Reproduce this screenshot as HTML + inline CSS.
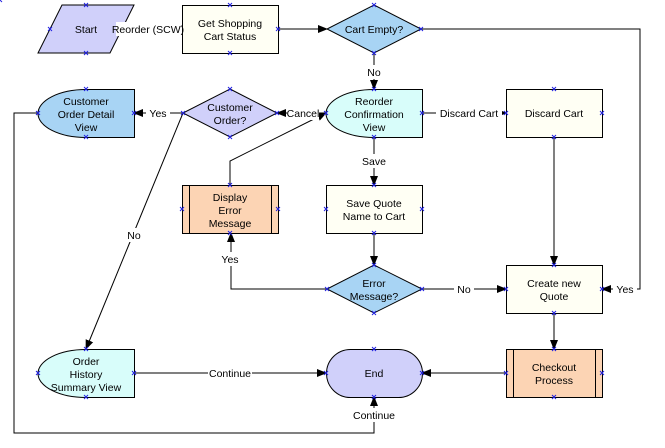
<!DOCTYPE html>
<html><head><meta charset="utf-8"><style>
html,body{margin:0;padding:0;background:#fff;}
svg{display:block;}
text{font-family:"Liberation Sans",sans-serif;font-size:10.5px;fill:#000;}
.t{text-anchor:middle;}
.x{stroke:#2020e0;stroke-width:1;}
</style></head><body>
<svg width="665" height="448" viewBox="0 0 665 448" xmlns="http://www.w3.org/2000/svg">
<defs>
<marker id="a" markerWidth="10" markerHeight="10" refX="9" refY="5" orient="auto" markerUnits="userSpaceOnUse">
<path d="M0,1 L10,5 L0,9 Z" fill="#000"/></marker>
</defs>
<g stroke="#000" stroke-width="1" fill="none">
<line x1="278" y1="29" x2="327" y2="29" marker-end="url(#a)"/>
<polyline points="421,29 640,29 640,289 602,289" marker-end="url(#a)"/>
<line x1="374" y1="53" x2="374" y2="89" marker-end="url(#a)"/>
<line x1="422" y1="113" x2="506" y2="113" marker-end="url(#a)"/>
<line x1="374" y1="137" x2="374" y2="185" marker-end="url(#a)"/>
<line x1="374" y1="233" x2="374" y2="265" marker-end="url(#a)"/>
<line x1="554" y1="137" x2="554" y2="265" marker-end="url(#a)"/>
<line x1="554" y1="313" x2="554" y2="349" marker-end="url(#a)"/>
<line x1="506" y1="373" x2="422" y2="373" marker-end="url(#a)"/>
<line x1="134" y1="373" x2="326" y2="373" marker-end="url(#a)"/>
<line x1="422" y1="289" x2="506" y2="289" marker-end="url(#a)"/>
<polyline points="327,289 231,289 231,233" marker-end="url(#a)"/>
<line x1="326" y1="113" x2="277" y2="113" marker-end="url(#a)"/>
<polyline points="230,185 230,161 326,113" marker-end="url(#a)"/>
<line x1="183" y1="113" x2="134" y2="113" marker-end="url(#a)"/>
<line x1="183" y1="113" x2="86" y2="349" marker-end="url(#a)"/>
<polyline points="38,113 14,113 14,433 374,433 374,397" marker-end="url(#a)"/>
</g>
<g stroke="#000" stroke-width="1">
<polygon points="62,5 134,5 110,53 38,53" fill="#d0d0fa"/>
<rect x="182.5" y="5.5" width="96" height="48" fill="#fffff4"/>
<polygon points="374,5 421,29 374,53 327,29" fill="#a8d4f4"/>
<path d="M134.5,89.5 H86 A48,24 0 0 0 86,137.5 H134.5 Z" fill="#a8d4f4"/>
<polygon points="230,89 277,113 230,137 183,113" fill="#d0d0fa"/>
<path d="M422.5,89.5 H374 A48,24 0 0 0 374,137.5 H422.5 Z" fill="#d8fdfa"/>
<rect x="506.5" y="89.5" width="96" height="48" fill="#fffff4"/>
<rect x="182.5" y="185.5" width="96" height="48" fill="#fcd4b4"/>
<line x1="189.5" y1="185.5" x2="189.5" y2="233.5"/><line x1="271.5" y1="185.5" x2="271.5" y2="233.5"/>
<rect x="326.5" y="185.5" width="96" height="48" fill="#fffff4"/>
<polygon points="374,265 422,289 374,313 327,289" fill="#a8d4f4"/>
<rect x="506.5" y="265.5" width="96" height="48" fill="#fffff4"/>
<path d="M134.5,349.5 H86 A48,24 0 0 0 86,397.5 H134.5 Z" fill="#d8fdfa"/>
<rect x="326.5" y="349.5" width="96" height="48" rx="24" ry="24" fill="#d0d0fa"/>
<rect x="506.5" y="349.5" width="96" height="48" fill="#fcd4b4"/>
<line x1="513.5" y1="349.5" x2="513.5" y2="397.5"/><line x1="595.5" y1="349.5" x2="595.5" y2="397.5"/>
</g>
<rect x="116" y="22" width="62" height="14" fill="#fff"/>
<g fill="#fff">
<rect x="366" y="65" width="16" height="14"/><rect x="436" y="106" width="66" height="14"/>
<rect x="362" y="154" width="24" height="14"/><rect x="218" y="252" width="24" height="14"/>
<rect x="454" y="282" width="20" height="14"/><rect x="613" y="282" width="24" height="14"/>
<rect x="146" y="106" width="24" height="14"/><rect x="287" y="106" width="32" height="14"/>
<rect x="124" y="228" width="20" height="14"/><rect x="208" y="366" width="44" height="14"/>
<rect x="351" y="408" width="46" height="14"/>
</g>
<text x="148" y="33" class="t">Reorder (SCW)</text>
<text x="374" y="76" class="t">No</text>
<text x="469" y="117" class="t">Discard Cart</text>
<text x="374" y="165" class="t">Save</text>
<text x="230" y="263" class="t">Yes</text>
<text x="464" y="293" class="t">No</text>
<text x="625" y="293" class="t">Yes</text>
<text x="158" y="117" class="t">Yes</text>
<text x="303" y="117" class="t">Cancel</text>
<text x="134" y="239" class="t">No</text>
<text x="230" y="377" class="t">Continue</text>
<text x="374" y="419" class="t">Continue</text>
<text x="86" y="33" class="t">Start</text>
<text x="230" y="27" class="t">Get Shopping</text><text x="230" y="40" class="t">Cart Status</text>
<text x="374" y="33" class="t">Cart Empty?</text>
<text x="86" y="105" class="t">Customer</text><text x="86" y="118" class="t">Order Detail</text><text x="86" y="131" class="t">View</text>
<text x="230" y="111" class="t">Customer</text><text x="230" y="124" class="t">Order?</text>
<text x="374" y="105" class="t">Reorder</text><text x="374" y="118" class="t">Confirmation</text><text x="374" y="131" class="t">View</text>
<text x="554" y="117" class="t">Discard Cart</text>
<text x="230" y="201" class="t">Display</text><text x="230" y="214" class="t">Error</text><text x="230" y="227" class="t">Message</text>
<text x="374" y="207" class="t">Save Quote</text><text x="374" y="220" class="t">Name to Cart</text>
<text x="374" y="287" class="t">Error</text><text x="374" y="300" class="t">Message?</text>
<text x="554" y="287" class="t">Create new</text><text x="554" y="300" class="t">Quote</text>
<text x="86" y="365" class="t">Order</text><text x="86" y="378" class="t">History</text><text x="86" y="391" class="t">Summary View</text>
<text x="374" y="377" class="t">End</text>
<text x="554" y="371" class="t">Checkout</text><text x="554" y="384" class="t">Process</text>
<g class="x">
<path id="m" d="M-2,-2 L2,2 M-2,2 L2,-2"/>
</g>
<g class="x" fill="none">
<use href="#m" x="86" y="5"/><use href="#m" x="86" y="53"/><use href="#m" x="50" y="29"/>
<use href="#m" x="230" y="5"/><use href="#m" x="230" y="53"/><use href="#m" x="278" y="29"/>
<use href="#m" x="374" y="5"/><use href="#m" x="374" y="53"/><use href="#m" x="421" y="29"/>
<use href="#m" x="86" y="89"/><use href="#m" x="86" y="137"/><use href="#m" x="38" y="113"/><use href="#m" x="134" y="113"/>
<use href="#m" x="230" y="89"/><use href="#m" x="230" y="137"/><use href="#m" x="183" y="113"/><use href="#m" x="277" y="113"/>
<use href="#m" x="374" y="89"/><use href="#m" x="374" y="137"/><use href="#m" x="326" y="113"/><use href="#m" x="422" y="113"/>
<use href="#m" x="554" y="89"/><use href="#m" x="554" y="137"/><use href="#m" x="506" y="113"/><use href="#m" x="602" y="113"/>
<use href="#m" x="230" y="185"/><use href="#m" x="230" y="233"/><use href="#m" x="182" y="209"/><use href="#m" x="278" y="209"/>
<use href="#m" x="374" y="185"/><use href="#m" x="374" y="233"/><use href="#m" x="326" y="209"/><use href="#m" x="422" y="209"/>
<use href="#m" x="374" y="265"/><use href="#m" x="374" y="313"/><use href="#m" x="327" y="289"/><use href="#m" x="422" y="289"/>
<use href="#m" x="554" y="265"/><use href="#m" x="554" y="313"/><use href="#m" x="506" y="289"/><use href="#m" x="602" y="289"/>
<use href="#m" x="86" y="349"/><use href="#m" x="86" y="397"/><use href="#m" x="38" y="373"/><use href="#m" x="134" y="373"/>
<use href="#m" x="374" y="349"/><use href="#m" x="374" y="397"/><use href="#m" x="326" y="373"/><use href="#m" x="422" y="373"/>
<use href="#m" x="554" y="349"/><use href="#m" x="554" y="397"/><use href="#m" x="506" y="373"/><use href="#m" x="602" y="373"/>
</g>
</svg>
</body></html>
